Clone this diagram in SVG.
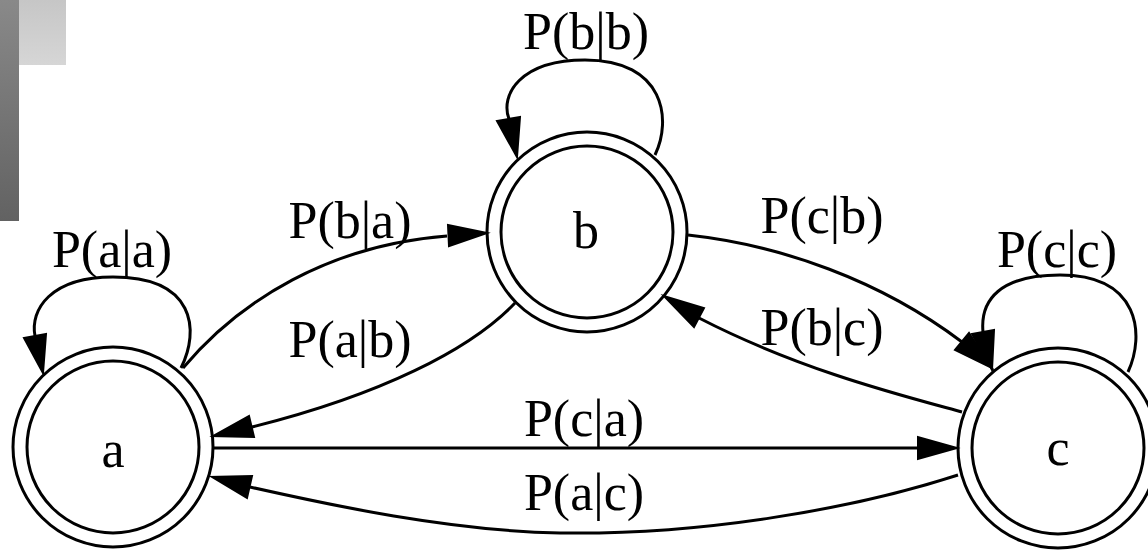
<svg xmlns="http://www.w3.org/2000/svg" width="1148" height="550" viewBox="0 0 1148 550">
<defs>
<linearGradient id="gBar" x1="0" y1="0" x2="0" y2="1"><stop offset="0" stop-color="#898989"/><stop offset="1" stop-color="#626262"/></linearGradient>
<linearGradient id="gSq" x1="0" y1="0" x2="0" y2="1"><stop offset="0" stop-color="#c6c6c6"/><stop offset="1" stop-color="#d6d6d6"/></linearGradient>
</defs>
<style>
.ring{fill:none;stroke:#000;stroke-width:3}
.edge{fill:none;stroke:#000;stroke-width:3}
.head{fill:#000;stroke:#000;stroke-width:2;stroke-linejoin:miter}
text{font-family:"Liberation Serif","Times New Roman",serif;font-size:52px;fill:#000;text-anchor:middle}
</style>
<rect x="0" y="0" width="19" height="221" fill="url(#gBar)"/>
<rect x="19" y="0" width="47" height="65" fill="url(#gSq)"/>
<g id="node-a">
<circle class="ring" cx="113" cy="447" r="100"/>
<circle class="ring" cx="113" cy="447" r="86"/>
<text x="113" y="467">a</text>
</g>
<g id="node-b">
<circle class="ring" cx="587" cy="232" r="100"/>
<circle class="ring" cx="587" cy="232" r="86"/>
<text x="586" y="248">b</text>
</g>
<g id="node-c">
<circle class="ring" cx="1058" cy="448" r="100"/>
<circle class="ring" cx="1058" cy="448" r="86"/>
<text x="1058" y="465">c</text>
</g>
<g id="connectors">
<path class="edge" d="M181,368 C200,330 195,277 113,277 C50,277 30,310 35,336"/>
<polygon class="head" points="46,334 24,338 43,373"/>
<text x="112" y="267">P(a|a)</text>

<path class="edge" d="M655,155 C672,120 665,60 585,60 C520,60 500,95 509,119"/>
<polygon class="head" points="520,117 497,121 517,157"/>
<text x="586" y="49">P(b|b)</text>

<path class="edge" d="M1128,372 C1145,335 1140,275 1060,275 C1000,275 980,300 983,332"/>
<polygon class="head" points="994,330 972,334 992,370"/>
<text x="1057" y="267">P(c|c)</text>

<path class="edge" d="M183,368 C240,300 330,245 447,236"/>
<polygon class="head" points="448,225 449,246 487,233"/>
<text x="350" y="238">P(b|a)</text>

<path class="edge" d="M515,303 C470,350 380,395 252,427"/>
<polygon class="head" points="249,416 254,437 213,436"/>
<text x="350" y="357">P(a|b)</text>

<path class="edge" d="M214,448 L918,448"/>
<polygon class="head" points="918,437 918,459 957,448"/>
<text x="584" y="436">P(c|a)</text>

<path class="edge" d="M958,475 C850,510 700,535 560,533 C450,531 330,505 250,487"/>
<polygon class="head" points="252,476 247,498 212,477"/>
<text x="584" y="510">P(a|c)</text>

<path class="edge" d="M688,235 C780,245 880,280 962,342"/>
<polygon class="head" points="955,350 969,333 992,368"/>
<text x="822" y="233">P(c|b)</text>

<path class="edge" d="M962,412 C900,395 800,370 699,318"/>
<polygon class="head" points="704,308 694,327 664,296"/>
<text x="822" y="345">P(b|c)</text>
</g>
</svg>
